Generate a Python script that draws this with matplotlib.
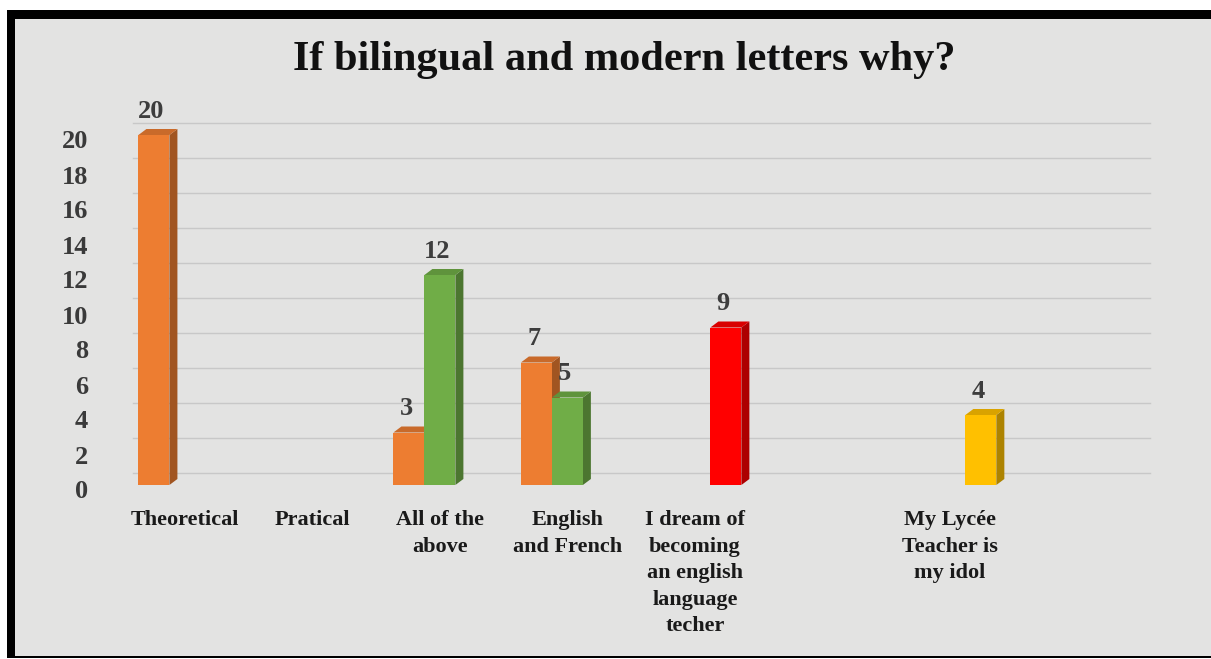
import matplotlib
matplotlib.use('Agg')
import matplotlib.pyplot as plt
from matplotlib.patches import Rectangle, Polygon
from matplotlib.transforms import offset_copy

# ---------------- data ----------------
categories = ["Theoretical", "Pratical", "All of the\nabove", "English\nand French",
              "I dream of\nbecoming\nan english\nlanguage\ntecher", "",
              "My Lycée\nTeacher is\nmy idol"]
series_orange = [20, 0, 3, 7, 0, 0, 0]
series_green = [0, 0, 12, 5, 0, 0, 0]
series_third = [0, 0, 0, 0, 9, 0, 4]
third_colors = ["#FF0000", "#FF0000", "#FF0000", "#FF0000", "#FF0000", "#FF0000", "#FFC000"]
y_ticks = [0, 2, 4, 6, 8, 10, 12, 14, 16, 18, 20]
title = "If bilingual and modern letters why?"

# ---------------- style ----------------
W, H = 1211, 659
FONT = "Liberation Serif"
plt.rcParams['font.family'] = [FONT, 'DejaVu Serif']

fig = plt.figure(figsize=(W / 100, H / 100), dpi=100)
fig.patch.set_facecolor("white")

# frame
fig.add_artist(Rectangle((7 / W, (H - 658) / H), (W - 7) / W, (658 - 10) / H,
                         transform=fig.transFigure, facecolor="black",
                         edgecolor="none", zorder=0))
fig.add_artist(Rectangle((15 / W, (H - 656) / H), (W - 15) / W, (656 - 19) / H,
                         transform=fig.transFigure, facecolor="#e3e3e2",
                         edgecolor="none", zorder=0))

ax = fig.add_axes([125 / W, (H - 485) / H, 1025 / W, (485 - 100) / H])
ax.set_facecolor("none")
for s in ax.spines.values():
    s.set_visible(False)
ax.set_ylim(0, 22)
ax.set_xlim(-0.47, 7.57)

px_per_x = 1025 / (7.57 + 0.47)
px_per_y = 385 / 22
w = 31 / px_per_x
dx = 8 / px_per_x
dy = 6 / px_per_y

# gridlines on back wall
grid_tr = offset_copy(ax.transData, fig=fig, x=8, y=12, units='dots')
for v in y_ticks:
    ax.plot([-0.47, 7.57 - 8 / px_per_x], [v, v], color="#c8c8c8", lw=1.0,
            transform=grid_tr, zorder=1, clip_on=False)


def darker(c, f):
    import matplotlib.colors as mc
    r, g, b = mc.to_rgb(c)
    return (r * f, g * f, b * f)


def draw_series(values, colors, offset, z):
    xs = [i + offset * w for i in range(len(values))]
    bars = ax.bar(xs, values, width=w, color=colors, zorder=z, linewidth=0)
    for rect, val, col in zip(bars, values, colors):
        if val == 0:
            rect.set_visible(False)
            continue
        x0 = rect.get_x()
        h = rect.get_height()
        top = Polygon([(x0, h), (x0 + w, h), (x0 + w + dx, h + dy), (x0 + dx, h + dy)],
                      closed=True, facecolor=darker(col, 0.85), edgecolor="none", zorder=z)
        side = Polygon([(x0 + w, 0), (x0 + w + dx, dy), (x0 + w + dx, h + dy), (x0 + w, h)],
                       closed=True, facecolor=darker(col, 0.68), edgecolor="none", zorder=z - 0.5)
        ax.add_patch(top)
        ax.add_patch(side)
        ax.annotate(f"{val}", (rect.get_x() + w / 2, h), xytext=(-2, 17),
                    textcoords="offset points", ha="center", va="center",
                    fontsize=19, fontweight="bold", color="#3d3d3d", zorder=10)


draw_series(series_orange, ["#ED7D31"] * len(series_orange), -1, 3)
draw_series(series_green, ["#70AD47"] * len(series_green), 0, 4)
draw_series(series_third, third_colors, 1, 5)

# y tick labels (front plane, slightly below the back gridlines)
ax.set_yticks([])
ylab_tr = offset_copy(ax.get_yaxis_transform(), fig=fig, x=0, y=-7, units='dots')
for v in y_ticks:
    ax.text(-0.036, v, str(v), transform=ylab_tr, ha="right", va="center",
            fontsize=19, fontweight="bold", color="#3a3a3a")

# x tick labels
ax.set_xticks(range(len(categories)))
ax.set_xticklabels(categories, fontsize=16, fontweight="bold", color="#1a1a1a",
                   linespacing=1.44)
ax.tick_params(axis="x", length=0, pad=18)

fig.text(624 / W, (H - 60) / H, title, ha="center", va="center",
         fontsize=30.5, fontweight="bold", color="#111111")

fig.savefig("out.png", dpi=100)
